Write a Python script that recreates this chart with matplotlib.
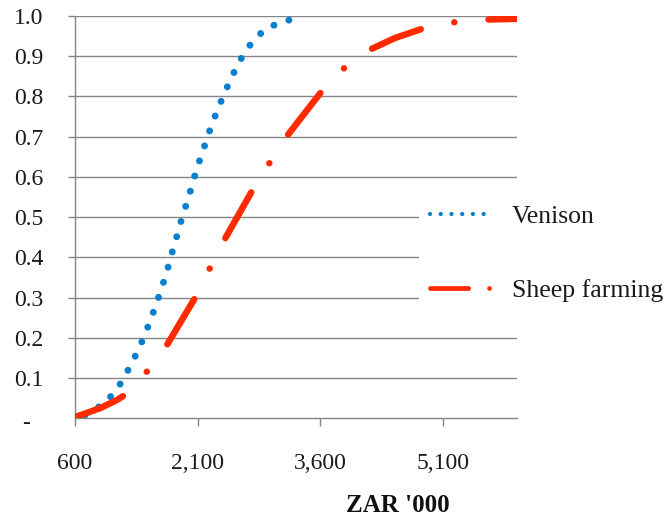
import matplotlib
matplotlib.use("Agg")
import matplotlib.pyplot as plt
from matplotlib.lines import Line2D
from matplotlib.ticker import FuncFormatter, FixedLocator

# ---- data ----
venison_x = [722, 877, 1028, 1146, 1244, 1333, 1415, 1488, 1556, 1622, 1683, 1740,
             1791, 1846, 1898, 1956, 2013, 2069, 2127, 2192, 2253, 2322, 2396, 2473,
             2558, 2652, 2762, 2896, 3067, 3254]
venison_y = [0.008, 0.026, 0.052, 0.083, 0.118, 0.153, 0.189, 0.226, 0.263, 0.301,
             0.339, 0.377, 0.415, 0.453, 0.491, 0.529, 0.567, 0.606, 0.643, 0.682,
             0.719, 0.756, 0.793, 0.829, 0.866, 0.902, 0.934, 0.962, 0.981, 0.992]

sheep_x = [600, 905, 1109, 1247, 1508, 1732, 2087, 2258, 2441, 2778, 2982, 3193,
           3613, 3889, 4203, 4509, 4854, 5221, 5588, 5995]
sheep_y = [0.003, 0.025, 0.045, 0.063, 0.123, 0.185, 0.306, 0.377, 0.449, 0.570,
           0.636, 0.702, 0.812, 0.870, 0.916, 0.945, 0.969, 0.984, 0.991, 0.993]

series_names = ["Venison", "Sheep farming"]
x_ticks = [600, 2100, 3600, 5100]
y_ticks = [0.1, 0.2, 0.3, 0.4, 0.5, 0.6, 0.7, 0.8, 0.9, 1.0]
y_tick_labels = ["0.1", "0.2", "0.3", "0.4", "0.5", "0.6", "0.7", "0.8", "0.9", "1.0"]
zero_label = "-"
x_label = "ZAR '000"

# ---- style ----
BLUE = "#0b7fcf"
RED = "#ff2a00"
GREY = "#858585"
plt.rcParams['font.family'] = ['Liberation Serif', 'DejaVu Serif']

W, H = 666, 518
fig = plt.figure(figsize=(W / 100, H / 100), dpi=100)
fig.patch.set_facecolor("white")
ax = fig.add_axes([75 / W, 99.7 / H, 441.7 / W, 402.3 / H])
ax.set_facecolor("white")

ax.plot(venison_x, venison_y, color=BLUE, lw=5.0, dashes=(0.01, 2.27),
        dash_capstyle='round', zorder=3)
ax.plot(sheep_x, sheep_y, color=RED, lw=4.68, dashes=(8.08, 5.27, 0.01, 5.27),
        dash_capstyle='round', zorder=4)

ax.set_xlim(600, 6000)
ax.set_ylim(0, 1)
ax.xaxis.set_major_locator(FixedLocator(x_ticks))
ax.xaxis.set_major_formatter(FuncFormatter(lambda v, p: f"{v:,.0f}"))
ax.set_yticks(y_ticks)
ax.set_yticklabels(y_tick_labels)

ax.yaxis.grid(True, color=GREY, lw=1.0, zorder=1)
ax.set_axisbelow(True)
for s in ["top", "right"]:
    ax.spines[s].set_visible(False)
for s in ["left", "bottom"]:
    ax.spines[s].set_color(GREY)
    ax.spines[s].set_linewidth(1.0)

ax.tick_params(axis='y', length=5, width=1.0, color=GREY, pad=18,
               labelsize=17, labelcolor="#1a1a1a")
ax.tick_params(axis='x', length=5.8, width=1.0, color=GREY, pad=19,
               labelsize=17, labelcolor="#1a1a1a")

# zero label shown as a dash (accounting style)
ax.text(26 / 441.7 - 75 / 441.7, -0.012, zero_label, transform=ax.get_yaxis_transform(),
        ha='center', va='center', fontsize=17, color="#1a1a1a")

ax.set_xlabel(x_label, fontsize=18, fontweight='bold', color="#111111")
ax.xaxis.set_label_coords(0.730, -0.232)
ax.xaxis.label.set_va('baseline')

leg_v = Line2D([], [], color=BLUE, lw=3.1, dashes=(0.01, 2.48), dash_capstyle='round')
leg_s = Line2D([], [], color=RED, lw=3.4, dashes=(8.1, 4.4, 0.01, 12), dash_capstyle='round')
F = 18.5
leg = ax.legend([leg_v, leg_s], series_names, loc='upper left',
                bbox_to_anchor=(419 / W, (H - 194) / H), bbox_transform=fig.transFigure,
                fontsize=F, frameon=True, facecolor='white', edgecolor='none',
                framealpha=1.0, fancybox=False, borderpad=0.43,
                handlelength=2.49, handletextpad=0.69, labelspacing=2.0,
                borderaxespad=0)
for t in leg.get_texts():
    t.set_color("#1a1a1a")

fig.savefig("out.png", dpi=100)
